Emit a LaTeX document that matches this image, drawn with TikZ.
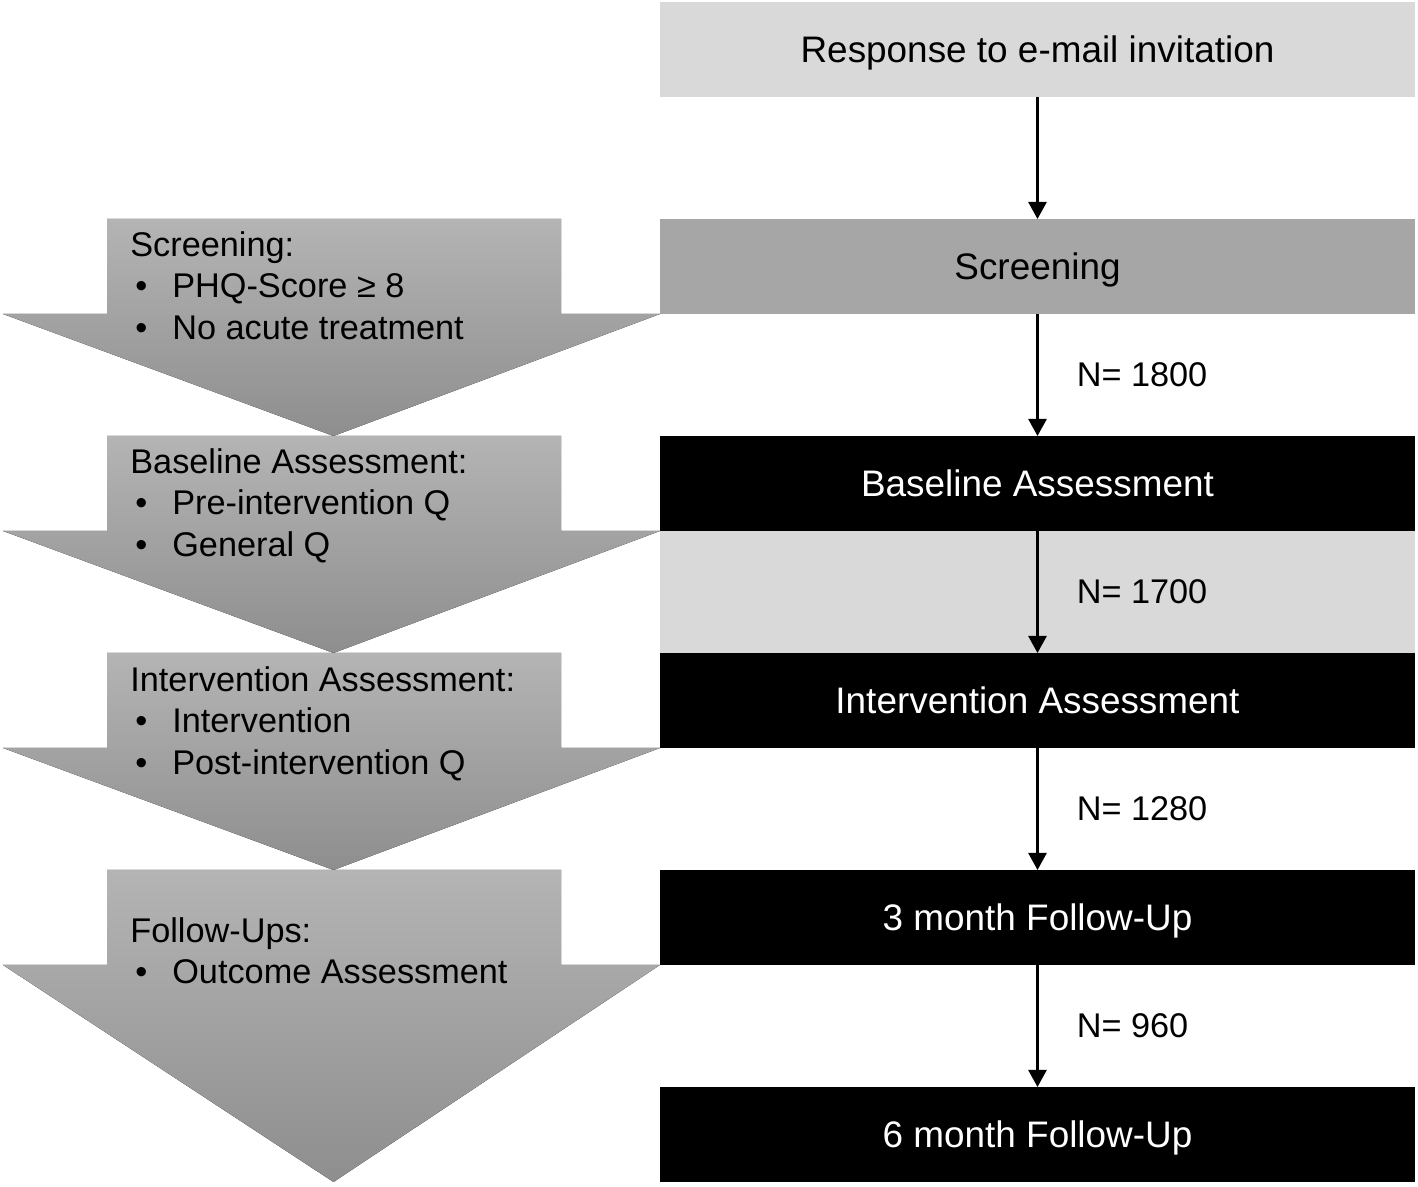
\documentclass[tikz,border=0pt]{standalone}
\usepackage{fontspec}
\setmainfont{Liberation Sans}
\usetikzlibrary{positioning,arrows.meta}
\definecolor{lightgrey}{HTML}{D9D9D9}
\definecolor{midgrey}{HTML}{A6A6A6}
\definecolor{phasetop}{HTML}{B4B4B4}
\definecolor{phasebot}{HTML}{8E8E8E}
\newcommand\bitem[1]{\makebox[0.84cm][l]{\hspace{0.1cm}\textbullet}#1}

\begin{document}
\begin{tikzpicture}
[stage/.style={minimum width=15.1cm,minimum height=1.9cm,inner sep=0,outer sep=0,text height=15pt,text depth=0pt,font=\fontsize{21}{25}\selectfont},
lightstage/.style={stage,fill=lightgrey},
midstage/.style={stage,fill=midgrey},
darkstage/.style={stage,fill=black,text=white},
flow/.style={-{Triangle[width=0.36cm,length=0.34cm]},line width=1.5pt},
count/.style={right,xshift=0.76cm,inner sep=0,font=\fontsize{19.5}{23}\selectfont},
phase/.style={top color=phasetop,bottom color=phasebot},
phasetext/.style={anchor=north west,align=left,inner sep=0,font=\fontsize{19.5}{23.6}\selectfont}]
\useasboundingbox (0,0) rectangle (28.36,-23.74);
\node[lightstage] (invite) at (20.75,-0.99) {Response to e-mail invitation};
\node[midstage,below=2.44cm of invite] (scr) {Screening};
\node[darkstage,below=2.44cm of scr] (base) {Baseline Assessment};
\node[darkstage,below=2.44cm of base] (interv) {Intervention Assessment};
\node[darkstage,below=2.44cm of interv] (fu3) {3 month Follow-Up};
\node[darkstage,below=2.44cm of fu3] (fu6) {6 month Follow-Up};
% band behind the second count
\fill[lightgrey] (base.south west) rectangle (interv.north east);
\draw[flow] (invite) -- (scr);
\draw[flow] (scr) -- node[count] {N= 1800} (base);
\draw[flow] (base) -- node[count] {N= 1700} (interv);
\draw[flow] (interv) -- node[count] {N= 1280} (fu3);
\draw[flow] (fu3) -- node[count] {N= 960} (fu6);
% phase arrows on the left
\foreach \a/\b in {scr/base.north,base/interv.north,interv/fu3.north,fu3/fu6.south}
  \fill[phase] (2.14,0 |- \a.north) -- (11.22,0 |- \a.north) -- (11.22,0 |- \a.south)
    -- (13.2,0 |- \a.south) -- (6.67,0 |- \b) -- (0.06,0 |- \a.south) -- (2.14,0 |- \a.south) -- cycle;
\node[phasetext] (scrtext) at (2.6,-4.62) {Screening:\\\bitem{PHQ-Score ≥ 8}\\\bitem{No acute treatment}};
\node[phasetext] (basetext) at (2.6,-8.96) {Baseline Assessment:\\\bitem{Pre-intervention Q}\\\bitem{General Q}};
\node[phasetext] (intervtext) at (2.6,-13.32) {Intervention Assessment:\\\bitem{Intervention}\\\bitem{Post-intervention Q}};
\node[phasetext] (futext) at (2.6,-18.34) {Follow-Ups:\\\bitem{Outcome Assessment}};
\end{tikzpicture}
\end{document}
